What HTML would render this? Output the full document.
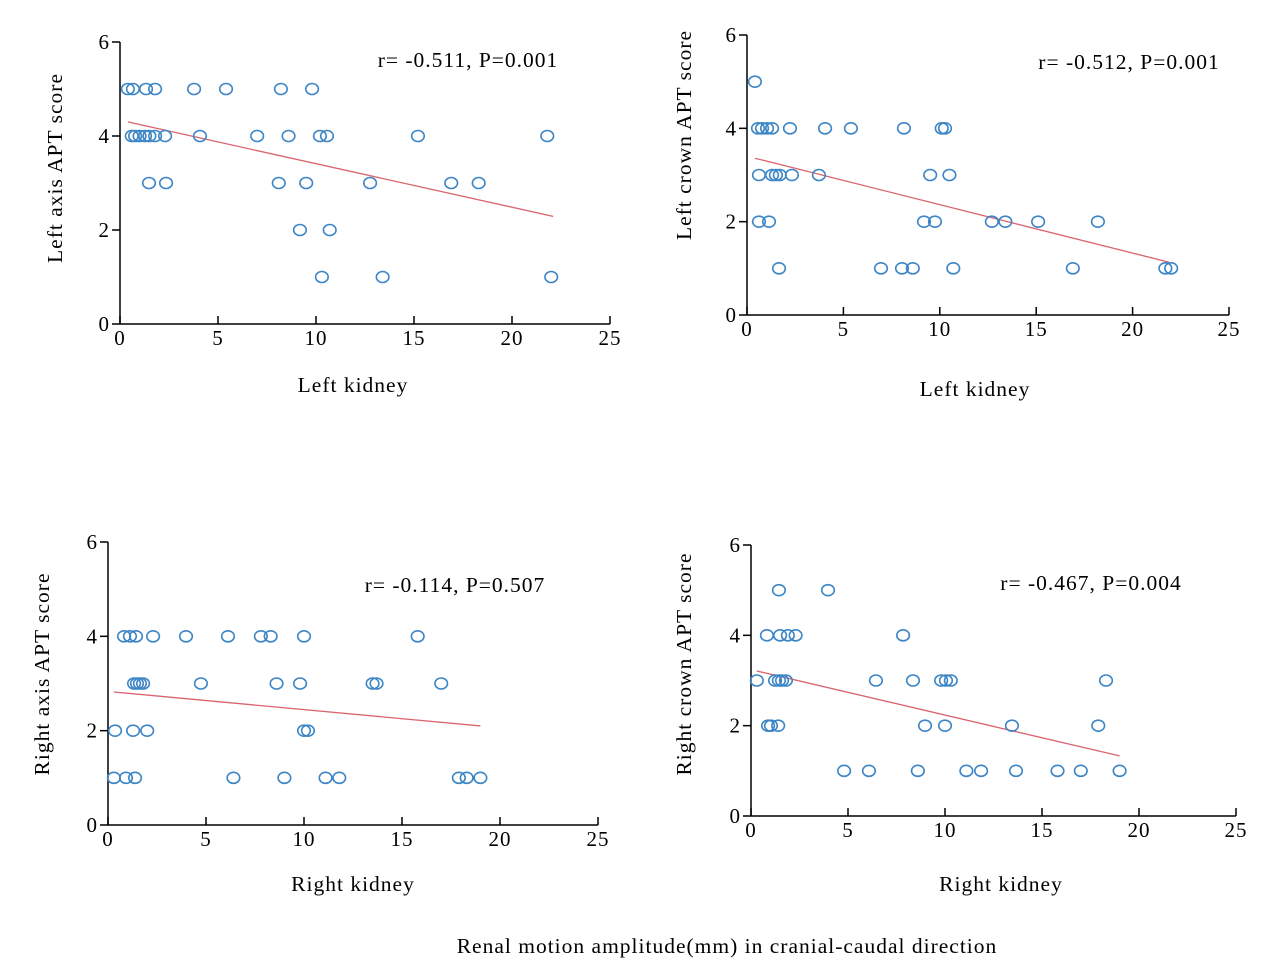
<!DOCTYPE html>
<html><head><meta charset="utf-8"><style>
html,body{margin:0;padding:0;background:#fff}
svg{display:block;font-family:"Liberation Serif",serif}
text{letter-spacing:1px}
</style></head><body>
<svg id="chart" width="1265" height="979" viewBox="0 0 1265 979">
<text x="727" y="953" font-size="21.5" text-anchor="middle">Renal motion amplitude(mm) in cranial-caudal direction</text>
</svg>
<script>
// Panel 1: Left axis
const p1x=[0.4,0.66,1.33,1.79,3.78,5.41,8.21,9.8, 0.6,0.77,1.0,1.28,1.5,1.79,2.3,4.08,7.0,8.6,10.2,10.56,15.2,21.8, 1.48,2.35,8.1,9.5,12.76,16.9,18.3, 9.18,10.7, 10.3,13.4,22.0];
const p1y=[5,5,5,5,5,5,5,5, 4,4,4,4,4,4,4,4,4,4,4,4,4,4, 3,3,3,3,3,3,3, 2,2, 1,1,1];
const p1line=[[0.4,4.3],[22.1,2.29]];
// Panel 2: Left crown
const p2x=[0.41, 0.57,0.78,1.04,1.3,2.23,4.05,5.39,8.14,10.1,10.27, 0.62,1.3,1.5,1.7,2.33,3.73,9.5,10.5, 0.62,1.14,9.18,9.75,12.7,13.4,15.1,18.2, 1.66,6.95,8.04,8.6,10.7,16.9,21.7,22.0];
const p2y=[5, 4,4,4,4,4,4,4,4,4,4, 3,3,3,3,3,3,3,3, 2,2,2,2,2,2,2,2, 1,1,1,1,1,1,1,1];
const p2line=[[0.41,3.36],[21.9,1.13]];
// Panel 3: Right axis
const p3x=[0.82,1.12,1.43,2.3,3.98,6.12,7.8,8.3,10.0,15.8, 1.33,1.48,1.63,1.79,4.74,8.6,9.8,13.5,13.7,17.0, 0.36,1.28,2.0,10.0,10.2, 0.3,0.92,1.38,6.4,9.0,11.1,11.8,17.9,18.3,19.0];
const p3y=[4,4,4,4,4,4,4,4,4,4, 3,3,3,3,3,3,3,3,3,3, 2,2,2,2,2, 1,1,1,1,1,1,1,1,1,1];
const p3line=[[0.3,2.82],[19,2.1]];
// Panel 4: Right crown
const p4x=[1.44,3.97, 0.82,1.5,1.9,2.3,7.84, 0.3,1.24,1.44,1.6,1.8,6.44,8.35,9.8,10.05,10.3,18.3, 0.88,1.03,1.4,8.97,10.0,13.45,17.9, 4.8,6.08,8.6,11.1,11.86,13.66,15.8,17.0,19.0];
const p4y=[5,5, 4,4,4,4,4, 3,3,3,3,3,3,3,3,3,3,3, 2,2,2,2,2,2,2, 1,1,1,1,1,1,1,1,1];
const p4line=[[0.3,3.21],[19,1.33]];
const xTicks=[0,5,10,15,20,25];
const yTicks=[0,2,4,6];

const NS='http://www.w3.org/2000/svg';
const svg=document.getElementById('chart');
function mk(tag,attrs,parent){const e=document.createElementNS(NS,tag);for(const k in attrs)e.setAttribute(k,attrs[k]);(parent||svg).appendChild(e);return e;}

const panels=[
 {id:'left-axis',x0:120,x1:610,y0:324,y1:42,xs:p1x,ys:p1y,line:p1line,ann:'r= -0.511, P=0.001',ax:468,ay:67,xt:'Left kidney',xtx:353,xty:392,yt:'Left axis APT score',ytx:55,yty:168},
 {id:'left-crown',x0:747,x1:1229,y0:315,y1:35,xs:p2x,ys:p2y,line:p2line,ann:'r= -0.512, P=0.001',ax:1129,ay:69,xt:'Left kidney',xtx:975,xty:396,yt:'Left crown APT score',ytx:684,yty:135},
 {id:'right-axis',x0:108,x1:598,y0:825,y1:542,xs:p3x,ys:p3y,line:p3line,ann:'r= -0.114, P=0.507',ax:455,ay:592,xt:'Right kidney',xtx:353,xty:891,yt:'Right axis APT score',ytx:42,yty:674},
 {id:'right-crown',x0:751,x1:1236,y0:816,y1:545,xs:p4x,ys:p4y,line:p4line,ann:'r= -0.467, P=0.004',ax:1091,ay:590,xt:'Right kidney',xtx:1001,xty:891,yt:'Right crown APT score',ytx:684,yty:664}
];
panels.forEach(p=>{
 const g=mk('g',{});
 
 
 const sx=v=>p.x0+(p.x1-p.x0)*v/25;
 const sy=v=>p.y0+(p.y1-p.y0)*v/6;
 const xa=mk('line',{x1:p.x0,y1:p.y0,x2:p.x1,y2:p.y0,stroke:'#000','stroke-width':1.5},g);
 
 
 const ya=mk('line',{x1:p.x0,y1:p.y0,x2:p.x0,y2:p.y1,stroke:'#000','stroke-width':1.5},g);
 
 
 xTicks.forEach(t=>{
  mk('line',{x1:sx(t),y1:p.y0,x2:sx(t),y2:p.y0-8,stroke:'#000','stroke-width':1.5},g);
  const l=mk('text',{x:sx(t),y:p.y0+21,'font-size':21,'text-anchor':'middle'},g);
  l.textContent=t;
  
  
 });
 yTicks.forEach(t=>{
  mk('line',{x1:p.x0-8,y1:sy(t),x2:p.x0,y2:sy(t),stroke:'#000','stroke-width':1.5},g);
  const l=mk('text',{x:p.x0-10,y:sy(t)+7,'font-size':21,'text-anchor':'end'},g);
  l.textContent=t;
  
  
 });
 const tl=mk('line',{x1:sx(p.line[0][0]),y1:sy(p.line[0][1]),x2:sx(p.line[1][0]),y2:sy(p.line[1][1]),stroke:'#d9646e','stroke-width':1.3},g);
 
 
 p.xs.forEach((v,i)=>{
  const c=mk('ellipse',{cx:sx(v),cy:sy(p.ys[i]),rx:6.3,ry:5.5,fill:'none',stroke:'#3d86c6','stroke-width':1.6},g);
  
  
 });
 const a=mk('text',{x:p.ax,y:p.ay,'font-size':21.5,'text-anchor':'middle'},g);
 a.textContent=p.ann;
 
 
 const xt=mk('text',{x:p.xtx,y:p.xty,'font-size':21.5,'text-anchor':'middle'},g);
 xt.textContent=p.xt;
 
 
 const yt=mk('text',{x:p.ytx,y:p.yty,'font-size':21.5,'text-anchor':'middle',transform:`rotate(-90 ${p.ytx} ${p.yty})`,dy:7},g);
 yt.textContent=p.yt;
 
 
});
</script>
</body></html>
